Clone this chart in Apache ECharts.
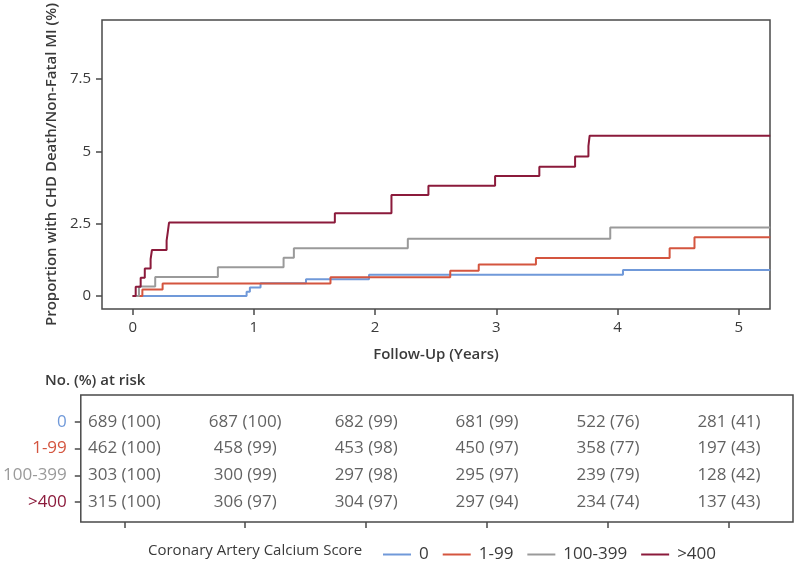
<!DOCTYPE html>
<html>
<head>
<meta charset="utf-8">
<script src="https://cdn.jsdelivr.net/npm/echarts@6/dist/echarts.min.js"></script>
<style>html,body{margin:0;padding:0;background:#fff;}#c{width:796px;height:567px;}</style>
</head>
<body>
<div id="c"></div>
<script>
// ---- Data ----
var groupNames = ['0', '1-99', '100-399', '>400'];
var groupColors = ['#7099d9', '#d4553f', '#9a9a9a', '#8b1a3b'];

var timeCac0 = [0, 0.94, 0.967, 1.055, 1.43, 1.95, 4.045, 5.26];
var riskCac0 = [0, 0.15, 0.29, 0.44, 0.58, 0.73, 0.90, 0.90];

var timeCac1 = [0, 0.08, 0.247, 1.632, 2.62, 2.855, 3.327, 4.43, 4.635, 5.26];
var riskCac1 = [0, 0.22, 0.43, 0.65, 0.87, 1.09, 1.31, 1.65, 2.03, 2.03];

var timeCac100 = [0, 0.052, 0.186, 0.703, 1.245, 1.33, 2.27, 3.94, 5.26];
var riskCac100 = [0, 0.33, 0.66, 0.99, 1.32, 1.65, 1.98, 2.37, 2.37];

var timeCac400 = [0, 0.025, 0.066, 0.10, 0.148, 0.159, 0.28, 0.29, 0.30, 1.668, 2.135, 2.44, 2.99, 3.355, 3.65, 3.76, 3.77, 5.26];
var riskCac400 = [0, 0.32, 0.63, 0.95, 1.27, 1.59, 1.91, 2.22, 2.54, 2.86, 3.49, 3.81, 4.15, 4.47, 4.82, 5.18, 5.54, 5.54];

var yTicks = [0, 2.5, 5, 7.5];
var xTicks = [0, 1, 2, 3, 4, 5];

var atRiskYears = [0, 1, 2, 3, 4, 5];
var atRiskN0 = [689, 687, 682, 681, 522, 281];
var atRiskPct0 = [100, 100, 99, 99, 76, 41];
var atRiskN1 = [462, 458, 453, 450, 358, 197];
var atRiskPct1 = [100, 99, 98, 97, 77, 43];
var atRiskN100 = [303, 300, 297, 295, 239, 128];
var atRiskPct100 = [100, 99, 98, 97, 79, 42];
var atRiskN400 = [315, 306, 304, 297, 234, 137];
var atRiskPct400 = [100, 97, 97, 94, 74, 43];

// ---- Build ----
var FONT = 'Open Sans';
var TXT = '#3a3a3a';
function pairs(t, v) { return t.map(function (x, i) { return [x, v[i]]; }); }
var curves = [pairs(timeCac0, riskCac0), pairs(timeCac1, riskCac1), pairs(timeCac100, riskCac100), pairs(timeCac400, riskCac400)];
var tableN = [atRiskN0, atRiskN1, atRiskN100, atRiskN400];
var tablePct = [atRiskPct0, atRiskPct1, atRiskPct100, atRiskPct400];

var tableData = [];
for (var r = 0; r < 4; r++) {
  for (var c = 0; c < atRiskYears.length; c++) {
    tableData.push({ value: [atRiskYears[c], r], name: tableN[r][c] + ' (' + tablePct[r][c] + ')' });
  }
}

var series = curves.map(function (d, i) {
  return {
    name: groupNames[i], type: 'line', step: 'end', data: d,
    xAxisIndex: 0, yAxisIndex: 0, symbol: 'none', showSymbol: false, silent: true,
    lineStyle: { color: groupColors[i], width: 2 }, itemStyle: { color: groupColors[i] },
    z: 2 + i
  };
});
series.push({
  type: 'scatter', xAxisIndex: 1, yAxisIndex: 1, symbolSize: 0, data: tableData, silent: true,
  label: { show: true, position: 'inside', formatter: '{b}', color: TXT, fontSize: 17, fontFamily: FONT }
});

var rich = {};
groupNames.forEach(function (n, i) { rich['r' + i] = { color: groupColors[i], fontSize: 17, fontFamily: FONT }; });

var tickStyle = { color: '#4a4a4a', width: 1.5 };

var option = {
  animation: false,
  backgroundColor: '#fff',
  textStyle: { fontFamily: FONT },
  grid: [
    { left: 102, top: 20, width: 668, height: 289, show: true, borderColor: '#4a4a4a', borderWidth: 1.5, containLabel: false },
    { left: 78, top: 395, width: 715, height: 127, show: true, borderColor: '#4a4a4a', borderWidth: 1.5, containLabel: false }
  ],
  xAxis: [
    {
      type: 'value', gridIndex: 0, min: -0.253, max: 5.258,
      axisLine: { show: false, onZero: false }, splitLine: { show: false },
      axisTick: { show: true, customValues: xTicks, length: 6, lineStyle: tickStyle },
      axisLabel: { customValues: xTicks, color: TXT, fontSize: 15, margin: 11, fontFamily: FONT },
      name: 'Follow-Up (Years)', nameLocation: 'middle', nameGap: 38,
      nameTextStyle: { color: TXT, fontSize: 15, fontWeight: 600, fontFamily: FONT }
    },
    {
      type: 'value', gridIndex: 1, min: -0.36, max: 5.53,
      axisLine: { show: false, onZero: false }, splitLine: { show: false },
      axisTick: { show: true, customValues: xTicks, length: 6, lineStyle: tickStyle },
      axisLabel: { show: false }
    }
  ],
  yAxis: [
    {
      type: 'value', gridIndex: 0, min: -0.45, max: 9.54,
      axisLine: { show: false, onZero: false }, splitLine: { show: false },
      axisTick: { show: true, customValues: yTicks, length: 6, lineStyle: tickStyle },
      axisLabel: { customValues: yTicks, color: TXT, fontSize: 15, margin: 11, fontFamily: FONT },
      name: 'Proportion with CHD Death/Non-Fatal MI (%)', nameLocation: 'middle', nameGap: 42,
      nameTextStyle: { color: TXT, fontSize: 15, fontWeight: 600, fontFamily: FONT }
    },
    {
      type: 'value', gridIndex: 1, min: -1.01, max: 3.75, inverse: true,
      axisLine: { show: false, onZero: false }, splitLine: { show: false },
      axisTick: { show: true, customValues: [0, 1, 2, 3], length: 6, lineStyle: tickStyle },
      axisLabel: {
        customValues: [0, 1, 2, 3], margin: 14, rich: rich,
        formatter: function (v) { return '{r' + v + '|' + groupNames[v] + '}'; }
      }
    }
  ],
  legend: {
    data: groupNames.map(function (n) { return { name: n, icon: 'rect' }; }),
    left: 378, top: 541, itemWidth: 28, itemHeight: 2, itemGap: 14,
    textStyle: { color: TXT, fontSize: 17, fontFamily: FONT, padding: [0, 0, 0, 3] }, selectedMode: false
  },
  graphic: [
    { type: 'text', left: 45, top: 373, style: { text: 'No. (%) at risk', fill: TXT, font: '600 15px "Open Sans"' } },
    { type: 'text', left: 148, top: 543, style: { text: 'Coronary Artery Calcium Score', fill: TXT, font: '15px "Open Sans"' } }
  ],
  series: series
};

var chart = echarts.init(document.getElementById('c'), null, { renderer: 'canvas' });
chart.setOption(option);
</script>
</body>
</html>
